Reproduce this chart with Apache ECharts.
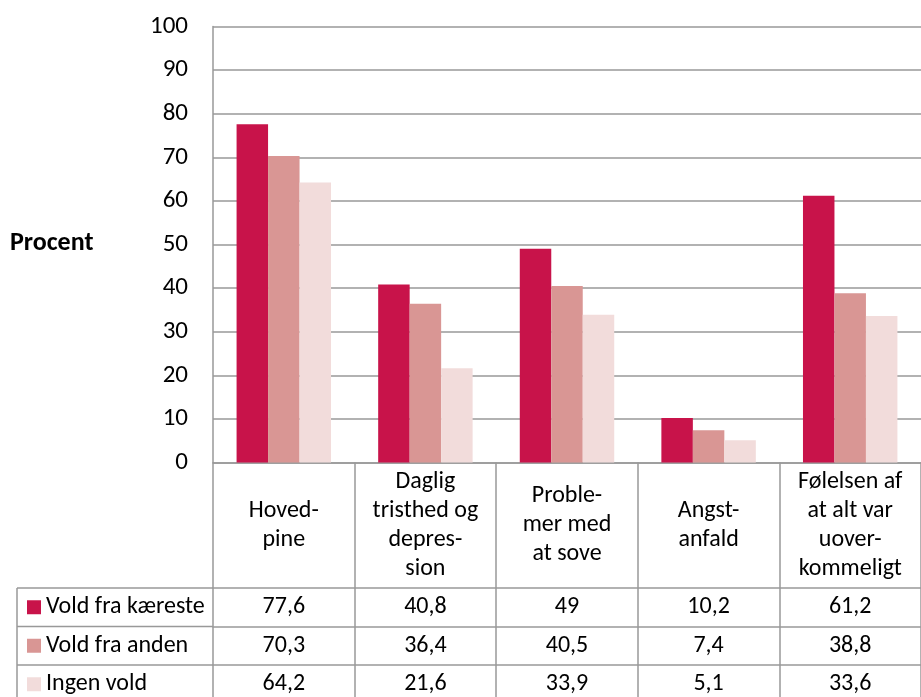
<!DOCTYPE html>
<html><head><meta charset="utf-8">
<script src="https://cdn.jsdelivr.net/npm/echarts@6/dist/echarts.min.js"></script>
<style>html,body{margin:0;padding:0;background:#fff}#c{width:921px;height:697px}</style>
</head><body><div id="c"></div>
<script>
// ---- data ----
const categories = ['Hoved-\npine', 'Daglig\ntristhed og\ndepres-\nsion', 'Proble-\nmer med\nat sove', 'Angst-\nanfald', 'Følelsen af\nat alt var\nuover-\nkommeligt'];
const seriesNames = ['Vold fra kæreste', 'Vold fra anden', 'Ingen vold'];
const voldFraKaereste = [77.6, 40.8, 49, 10.2, 61.2];
const voldFraAnden = [70.3, 36.4, 40.5, 7.4, 38.8];
const ingenVold = [64.2, 21.6, 33.9, 5.1, 33.6];
const yMin = 0, yMax = 100, yInterval = 10;
const yAxisTitle = 'Procent';

// ---- layout / style ----
const FONT = 'Carlito, Calibri, Lato, sans-serif';
const FS = 24;
const GRAY = '#999999';
const LW = 1.5;
const colors = ['#C8134A', '#D99694', '#F2DCDB'];
const gridLeft = 213, gridTop = 26.5, gridH = 436, catW = 144;
const gridBottomY = gridTop + gridH;
const headerH = 125.5, rowH = 38.5;
const legendColLeft = 17;

const seriesData = [voldFraKaereste, voldFraAnden, ingenVold];
const fmt = v => String(v).replace('.', ',');

const chart = echarts.init(document.getElementById('c'), null, {renderer: 'canvas'});

const xAxes = [{
  type: 'category', data: categories, position: 'bottom', offset: 0,
  axisLine: {show: true, lineStyle: {color: GRAY, width: LW}},
  axisTick: {show: true, length: headerH, interval: 0, lineStyle: {color: GRAY, width: LW}},
  axisLabel: {interval: 0, margin: headerH / 2, verticalAlign: 'middle', align: 'center',
    fontFamily: FONT, fontSize: FS, lineHeight: 29, color: '#000'},
  splitLine: {show: false}
}];
seriesData.forEach((arr, k) => {
  xAxes.push({
    type: 'category', data: categories, position: 'bottom', offset: headerH + k * rowH,
    axisLine: {show: true, lineStyle: {color: GRAY, width: LW}},
    axisTick: {show: true, length: rowH, interval: 0, lineStyle: {color: GRAY, width: LW}},
    axisLabel: {interval: 0, margin: rowH / 2, verticalAlign: 'middle', align: 'center',
      fontFamily: FONT, fontSize: FS, lineHeight: 24, color: '#000',
      formatter: (v, i) => fmt(arr[i])},
    splitLine: {show: false}
  });
});

const graphics = [];
for (let k = 0; k < 3; k++) {
  const y = gridBottomY + headerH + k * rowH;
  graphics.push({type: 'line', shape: {x1: legendColLeft, y1: y, x2: gridLeft, y2: y},
    style: {stroke: GRAY, lineWidth: LW}, silent: true});
}
graphics.push({type: 'line', shape: {x1: legendColLeft, y1: gridBottomY + headerH, x2: legendColLeft, y2: 720},
  style: {stroke: GRAY, lineWidth: LW}, silent: true});

chart.setOption({
  backgroundColor: '#fff',
  animation: false,
  color: colors,
  title: {text: yAxisTitle, left: 10, top: gridTop + gridH / 2 - 16, padding: 0,
    textStyle: {fontFamily: FONT, fontSize: 26, fontWeight: 'bold', color: '#000', lineHeight: 30}},
  legend: {orient: 'vertical', left: 27, top: gridBottomY + headerH + rowH / 2 - 12, padding: 0,
    itemGap: rowH - 24, itemWidth: 14, itemHeight: 14, icon: 'rect', data: seriesNames,
    textStyle: {fontFamily: FONT, fontSize: FS, lineHeight: 24, color: '#000'},
    selectedMode: false},
  grid: {left: gridLeft, top: gridTop, width: catW * categories.length, height: gridH, containLabel: false},
  xAxis: xAxes,
  yAxis: {type: 'value', min: yMin, max: yMax, interval: yInterval,
    axisLine: {show: true, lineStyle: {color: GRAY, width: LW}},
    axisTick: {show: false},
    axisLabel: {margin: 25, fontFamily: FONT, fontSize: 25, color: '#000'},
    splitLine: {show: true, lineStyle: {color: GRAY, width: LW}}},
  graphic: graphics,
  series: seriesNames.map((name, k) => ({
    name, type: 'bar', xAxisIndex: 0, data: seriesData[k],
    barGap: '0%', barCategoryGap: '33.3%',
    itemStyle: {color: colors[k]}
  }))
});
</script></body></html>
